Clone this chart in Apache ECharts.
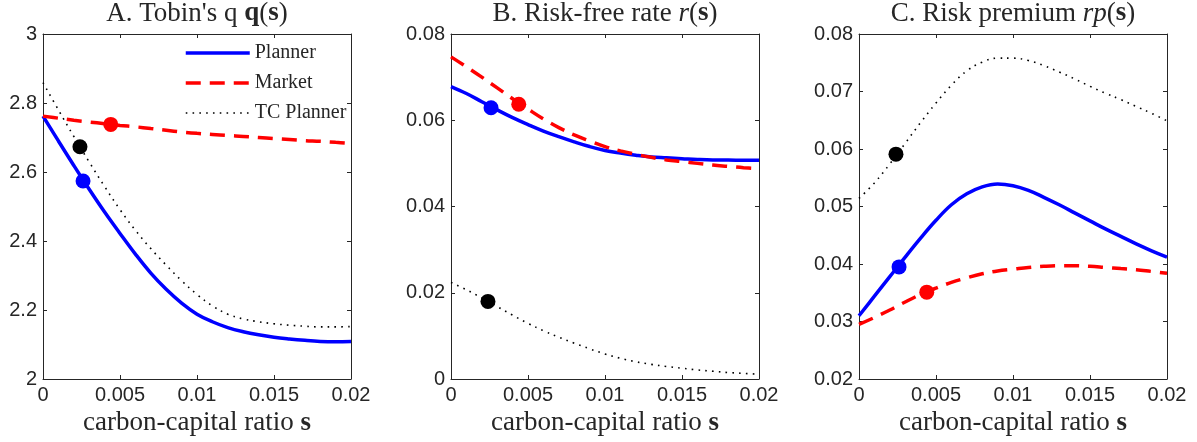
<!DOCTYPE html>
<html><head><meta charset="utf-8">
<script src="https://cdn.jsdelivr.net/npm/echarts@6/dist/echarts.min.js"></script>
<style>html,body{margin:0;padding:0;background:#fff}#c{width:1197px;height:442px}</style>
</head><body><div id="c"></div>
<script>
// carbon-capital ratio grid
const sGrid = [0,0.001,0.002,0.003,0.004,0.005,0.006,0.007,0.008,0.009,0.01,0.011,0.012,0.013,0.014,0.015,0.016,0.017,0.018,0.019,0.02];
const seriesNames = ['Planner','Market','TC Planner'];

// Panel A: Tobin's q
const qPlanner = [2.762,2.690,2.619,2.550,2.484,2.422,2.362,2.307,2.260,2.220,2.188,2.166,2.149,2.137,2.128,2.121,2.116,2.112,2.109,2.108,2.109];
const qMarket  = [2.762,2.756,2.750,2.745,2.740,2.735,2.731,2.726,2.721,2.716,2.712,2.709,2.706,2.703,2.700,2.697,2.694,2.691,2.689,2.686,2.683];
const qTC      = [2.859,2.780,2.703,2.629,2.558,2.491,2.431,2.378,2.330,2.285,2.245,2.212,2.188,2.174,2.166,2.160,2.156,2.153,2.151,2.151,2.152];

// Panel B: risk-free rate
const rPlanner = [0.0678,0.0662,0.0643,0.0624,0.0606,0.0590,0.0575,0.0562,0.0550,0.0539,0.0530,0.0524,0.0519,0.0515,0.0513,0.0511,0.0509,0.0508,0.0508,0.0507,0.0507];
const rMarket  = [0.0747,0.0724,0.0700,0.0675,0.0650,0.0626,0.0603,0.0583,0.0566,0.0552,0.0539,0.0529,0.0521,0.0514,0.0508,0.0504,0.0500,0.0496,0.0493,0.0490,0.0488];
const rTC      = [0.0224,0.0207,0.0188,0.0168,0.0148,0.0129,0.0112,0.0097,0.0083,0.0070,0.0058,0.0048,0.0040,0.0034,0.0029,0.0025,0.0021,0.0018,0.0015,0.0013,0.0011];

// Panel C: risk premium
const rpPlanner = [0.0310,0.0344,0.0378,0.0412,0.0445,0.0476,0.0503,0.0522,0.0534,0.0539,0.0536,0.0528,0.0516,0.0503,0.0489,0.0475,0.0461,0.0448,0.0435,0.0423,0.0412];
const rpMarket  = [0.0295,0.0307,0.0320,0.0334,0.0347,0.0358,0.0368,0.0376,0.0383,0.0388,0.0391,0.0394,0.0396,0.0397,0.0397,0.0396,0.0394,0.0392,0.0390,0.0387,0.0384];
const rpTC      = [0.0514,0.0541,0.0574,0.0610,0.0646,0.0680,0.0711,0.0736,0.0751,0.0758,0.0758,0.0754,0.0745,0.0734,0.0722,0.0709,0.0697,0.0686,0.0674,0.0662,0.0649];

// current-state markers (Planner, Market, TC Planner)
const dotS   = [0.0026, 0.0044, 0.0024];
const qDots  = [2.574, 2.738, 2.673];
const rDots  = [0.0629, 0.0637, 0.0180];
const rpDots = [0.0395, 0.0351, 0.0591];

// tick labels
const xTickLabels = ['0','0.005','0.01','0.015','0.02'];
const yTicksA = ['2','2.2','2.4','2.6','2.8','3'];
const yTicksB = ['0','0.02','0.04','0.06','0.08'];
const yTicksC = ['0.02','0.03','0.04','0.05','0.06','0.07','0.08'];

const panels = [
  {title:"{n|A. Tobin's q }{b|q}{n|(}{b|s}{n|)}", lines:[qPlanner,qMarket,qTC], dots:qDots, ymin:2, ymax:3, yint:0.2, yl:yTicksA},
  {title:"{n|B. Risk-free rate }{i|r}{n|(}{b|s}{n|)}", lines:[rPlanner,rMarket,rTC], dots:rDots, ymin:0, ymax:0.08, yint:0.02, yl:yTicksB},
  {title:"{n|C. Risk premium }{i|rp}{n|(}{b|s}{n|)}", lines:[rpPlanner,rpMarket,rpTC], dots:rpDots, ymin:0.02, ymax:0.08, yint:0.01, yl:yTicksC}
];

const SERIF = '"Liberation Serif", "Times New Roman", serif';
const SANS = '"Liberation Sans", Arial, Helvetica, sans-serif';
const AX = '#262626';
const colors = ['#0000ff','#ff0000','#000000'];
const lineStyles = [
  {color:'#0000ff', width:3.5, type:'solid'},
  {color:'#ff0000', width:3.5, type:[15,9]},
  {color:'#000000', width:1.6, type:[1.6,5.2]}
];
const gLeft = [43, 451, 859], gW = 308, gTop = 34, gH = 345;
const FS = 27;
const richT = {
  n:{fontFamily:SERIF, fontSize:FS, color:AX, fontWeight:'normal'},
  b:{fontFamily:SERIF, fontSize:FS, color:AX, fontWeight:'bold'},
  i:{fontFamily:SERIF, fontSize:FS, color:AX, fontStyle:'italic', fontWeight:'normal'}
};

const grid=[], xAxis=[], yAxis=[], series=[], title=[];
panels.forEach((p,k)=>{
  grid.push({left:gLeft[k], top:gTop, width:gW, height:gH, containLabel:false, outerBoundsMode:'none'});
  title.push({text:p.title, left:gLeft[k]+gW/2, top:0, padding:0, textAlign:'center',
    textStyle:{fontWeight:'normal', fontFamily:SERIF, fontSize:FS, rich:richT}});
  const xBase = {type:'value', gridIndex:k, min:0, max:0.02, interval:0.005,
    splitLine:{show:false},
    axisLine:{show:true, onZero:false, lineStyle:{color:AX, width:1}},
    axisTick:{show:true, inside:true, length:4, lineStyle:{color:AX}}};
  xAxis.push(Object.assign({}, xBase, {position:'bottom',
    axisLabel:{margin:6, fontFamily:SANS, fontSize:20, color:AX,
      formatter:(v)=>xTickLabels[Math.round(v/0.005)]},
    name:'{n|carbon-capital ratio }{b|s}', nameLocation:'middle', nameGap:29,
    nameTextStyle:{fontWeight:'normal', rich:{n:richT.n, b:richT.b}}}));
  xAxis.push(Object.assign({}, xBase, {position:'top', axisLabel:{show:false}}));
  const yBase = {type:'value', gridIndex:k, min:p.ymin, max:p.ymax, interval:p.yint,
    splitLine:{show:false},
    axisLine:{show:true, onZero:false, lineStyle:{color:AX, width:1}},
    axisTick:{show:true, inside:true, length:4, lineStyle:{color:AX}}};
  yAxis.push(Object.assign({}, yBase, {position:'left',
    axisLabel:{margin:6, fontFamily:SANS, fontSize:20, color:AX,
      formatter:(v)=>p.yl[Math.round((v-p.ymin)/p.yint)]}}));
  yAxis.push(Object.assign({}, yBase, {position:'right', axisLabel:{show:false}}));
  p.lines.forEach((arr,j)=>{
    series.push({type:'line', name:seriesNames[j], xAxisIndex:2*k, yAxisIndex:2*k,
      data:sGrid.map((s,i)=>[s,arr[i]]), smooth:0.4, symbol:'none', showSymbol:false,
      lineStyle:lineStyles[j], itemStyle:{color:colors[j]}, z:2+j, silent:true, animation:false});
  });
  series.push({type:'scatter', name:'state'+k, xAxisIndex:2*k, yAxisIndex:2*k,
    data:dotS.map((s,j)=>({value:[s,p.dots[j]], itemStyle:{color:colors[j], opacity:1}})),
    symbol:'circle', symbolSize:15, itemStyle:{opacity:1}, z:10, silent:true, animation:false});
});

const chart = echarts.init(document.getElementById('c'), null, {renderer:'canvas'});
chart.setOption({
  animation:false,
  backgroundColor:'#fff',
  title, grid, xAxis, yAxis, series,
  legend:{data:seriesNames.map((n,j)=>({name:n, lineStyle:{width:lineStyles[j].width, type:lineStyles[j].type, color:colors[j]}})),
    orient:'vertical', left:184, top:43, padding:0,
    itemWidth:64, itemHeight:14, itemGap:10, selectedMode:false,
    itemStyle:{opacity:0},
    textStyle:{fontFamily:SERIF, fontSize:20, color:AX, padding:[0,0,0,0]}}
});
</script></body></html>
